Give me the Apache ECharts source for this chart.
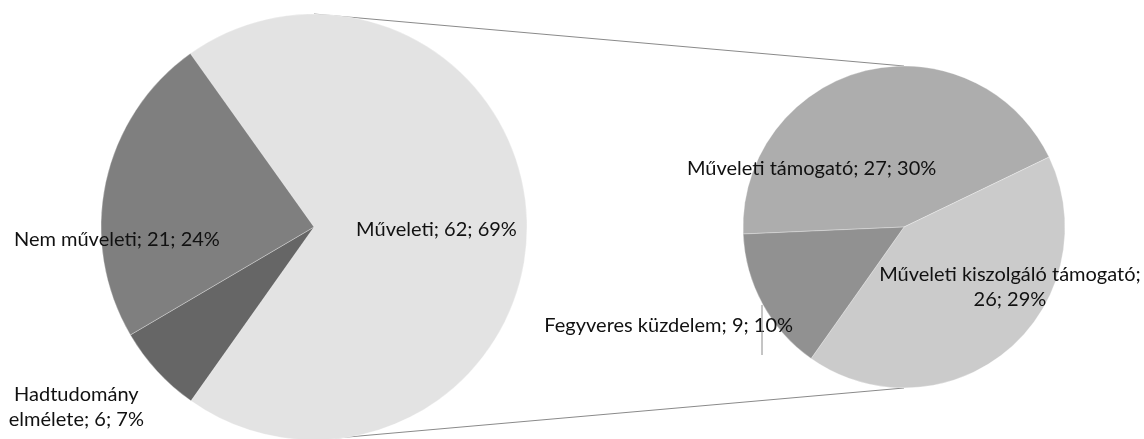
<!DOCTYPE html>
<html>
<head>
<meta charset="utf-8">
<script src="https://cdn.jsdelivr.net/npm/echarts@6/dist/echarts.min.js"></script>
<style>
  html, body { margin: 0; padding: 0; background: #fff; }
  #chart { width: 1144px; height: 439px; }
</style>
</head>
<body>
<div id="chart"></div>
<script>
// fő kör
const mainNames = ["Műveleti", "Hadtudomány elmélete", "Nem műveleti"];
const mainValues = [62, 6, 21];
const mainPercents = [69, 7, 24];
// a "Műveleti" szelet bontása
const subNames = ["Műveleti támogató", "Műveleti kiszolgáló támogató", "Fegyveres küzdelem"];
const subValues = [27, 26, 9];
const subPercents = [30, 29, 10];

const mainColors = ["#e3e3e3", "#666666", "#7f7f7f"];
const subColors = ["#adadad", "#cbcbcb", "#919191"];
// hol törjön a felirat
const mainWrap = [null, "name", null];
const subWrap = [null, "value", null];
// feliratok eltolása a szelet közepéhez képest
const mainOffsets = [[13, 3], [-157, 106], [-90, 35]];
const subOffsets = [[-72, 23], [52, -4], [-162, 59]];

const mainCenter = [314, 227], mainR = 213;
const subCenter = [904, 227], subR = 161;

function labelText(name, value, pct, wrap) {
  if (wrap === "name") return name.replace(" ", "\n") + "; " + value + "; " + pct + "%";
  if (wrap === "value") return name + ";\n" + value + "; " + pct + "%";
  return name + "; " + value + "; " + pct + "%";
}

function buildData(names, values, colors) {
  return names.map(function (n, i) {
    return { name: n, value: values[i], itemStyle: { color: colors[i] } };
  });
}

const labelStyle = {
  show: true,
  position: "inside",
  fontFamily: "Lato",
  fontSize: 20,
  lineHeight: 25,
  color: "#111",
  align: "center",
};

const chart = echarts.init(document.getElementById("chart"));
const option = {
  animation: false,
  backgroundColor: "#fff",
  graphic: [
    {
      type: "line",
      shape: { x1: mainCenter[0], y1: mainCenter[1] - mainR, x2: subCenter[0], y2: subCenter[1] - subR },
      style: { stroke: "#8a8a8a", lineWidth: 1 },
      z: 0,
    },
    {
      type: "line",
      shape: { x1: mainCenter[0], y1: mainCenter[1] + mainR, x2: subCenter[0], y2: subCenter[1] + subR },
      style: { stroke: "#8a8a8a", lineWidth: 1 },
      z: 0,
    },
    {
      // Fegyveres küzdelem vezetővonala
      type: "line",
      shape: { x1: subCenter[0] - 142, y1: subCenter[1] + 78, x2: subCenter[0] - 142, y2: subCenter[1] + 128 },
      style: { stroke: "#8a8a8a", lineWidth: 1 },
      z: 100,
    },
  ],
  series: [
    {
      type: "pie",
      center: mainCenter,
      radius: [0, mainR],
      startAngle: 125.5,
      clockwise: true,
      avoidLabelOverlap: false,
      silent: true,
      itemStyle: { borderColor: "rgba(255,255,255,0.5)", borderWidth: 0.6 },
      label: Object.assign({}, labelStyle, {
        formatter: function (p) {
          return labelText(p.name, p.value, mainPercents[p.dataIndex], mainWrap[p.dataIndex]);
        },
      }),
      labelLine: { show: false },
      labelLayout: function (p) {
        return { dx: mainOffsets[p.dataIndex][0], dy: mainOffsets[p.dataIndex][1] };
      },
      data: buildData(mainNames, mainValues, mainColors),
    },
    {
      type: "pie",
      center: subCenter,
      radius: [0, subR],
      startAngle: 182.5,
      clockwise: true,
      avoidLabelOverlap: false,
      silent: true,
      itemStyle: { borderColor: "rgba(255,255,255,0.5)", borderWidth: 0.6 },
      label: Object.assign({}, labelStyle, {
        formatter: function (p) {
          return labelText(p.name, p.value, subPercents[p.dataIndex], subWrap[p.dataIndex]);
        },
      }),
      labelLine: { show: false },
      labelLayout: function (p) {
        return { dx: subOffsets[p.dataIndex][0], dy: subOffsets[p.dataIndex][1] };
      },
      data: buildData(subNames, subValues, subColors),
    },
  ],
};
chart.setOption(option);
window.addEventListener("resize", function () {
  chart.resize();
});
</script>
</body>
</html>
